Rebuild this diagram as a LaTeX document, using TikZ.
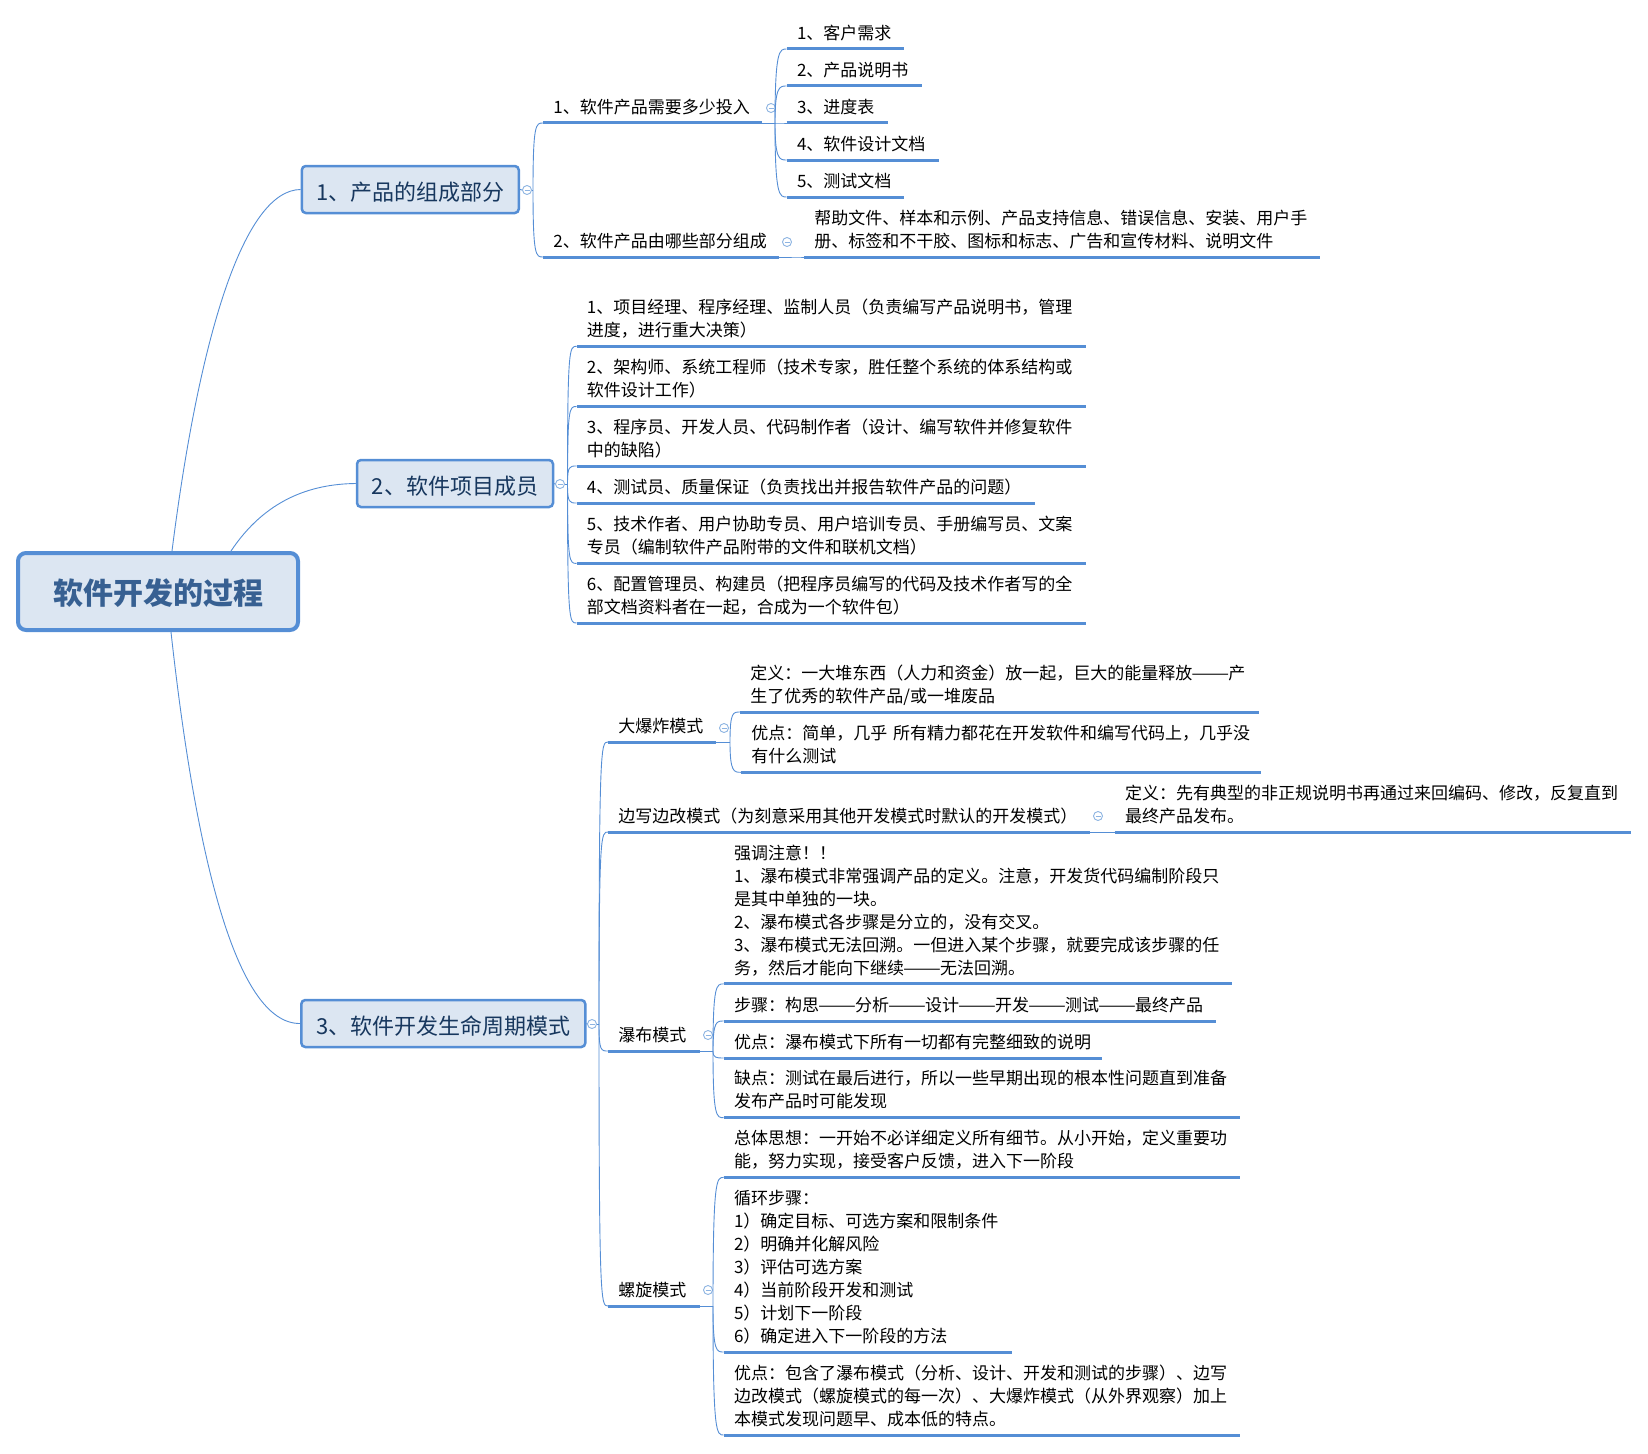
\documentclass[tikz,border=0pt]{standalone}
\usepackage{fontspec}
\usepackage{graphicx}
\setmainfont{Noto Sans CJK SC}
\definecolor{mapblue}{HTML}{558ED5}
\definecolor{mapfill}{HTML}{DCE6F2}
\definecolor{maptext}{HTML}{17375E}
\definecolor{rootext}{HTML}{376092}
\definecolor{foldblue}{HTML}{8DB4E2}
\newcommand{\longdash}{\makebox[36pt]{\scalebox{1.33}[1]{——}}}
\tikzset{
    rootbox/.style = {draw = mapblue, fill = mapfill, line width = 4pt, rounded corners = 8pt, minimum width = 280pt, minimum height = 77pt, text height = 30pt, text depth = 4pt, font = {\fontsize{30}{36}\selectfont\bfseries}, text = rootext},
    mainbox/.style = {draw = mapblue, fill = mapfill, line width = 2.5pt, rounded corners = 4pt, minimum height = 47pt, text height = 24pt, text depth = 3pt, font = {\fontsize{22}{28}\selectfont}, text = maptext},
    topic/.style = {anchor = south west, align = left, inner xsep = 10.4pt, inner ysep = 3pt, outer sep = 0pt, font = {\fontsize{17}{23}\selectfont}, execute at begin node = \strut, execute at end node = \strut},
    fold/.style = {circle, draw = foldblue, fill = white, line width = 0.9pt, minimum size = 9pt, inner sep = 0pt, path picture = {\draw[foldblue, line width = 0.9pt] ([xshift = 2pt]path picture bounding box.west) -- ([xshift = -2pt]path picture bounding box.east);}},
    uline/.style = {mapblue, line width = 3pt},
    branch/.style = {mapblue, line width = 0.9pt}
}

\begin{document}
\begin{tikzpicture}[x = 1pt, y = -1pt]
    \useasboundingbox (0, 0) rectangle (1648, 1453);

    % central topic and the three main topics
    \node[rootbox] (root) at (158, 591.5) {软件开发的过程};
    \node[mainbox, minimum width = 217pt] (prod) at (410.3, 189.5) {1、产品的组成部分};
    \node[mainbox, minimum width = 196pt] (team) at (455, 483.5) {2、软件项目成员};
    \node[mainbox, minimum width = 284pt] (life) at (443.3, 1023.5) {3、软件开发生命周期模式};

    \node[fold] (fprod) at (527, 190) {};
    \node[fold] (fteam) at (560, 484) {};
    \node[fold] (flife) at (592, 1024) {};

    \draw[branch] ([xshift = 14pt]root.north) .. controls (200, 330) and (245, 190) .. (prod.west);
    \draw[branch] ([xshift = 73pt]root.north) .. controls (265, 500) and (310, 484) .. (team.west);
    \draw[branch] ([xshift = 13pt]root.south) .. controls (195, 850) and (235, 1024) .. (life.west);
    \draw[branch] (prod.east) -- (fprod.west);
    \draw[branch] (team.east) -- (fteam.west);
    \draw[branch] (life.east) -- (flife.west);

    % first branch
    \node[topic, text width = 198.2pt] (inv) at (543, 123) {1、软件产品需要多少投入};
    \node[topic, text width = 215.2pt] (part) at (543, 257) {2、软件产品由哪些部分组成};
    \node[fold] (finv) at (771, 108) {};
    \node[fold] (fpart) at (787, 242) {};

    \node[topic, text width = 97pt] (inv1) at (786.6, 49) {1、客户需求};
    \node[topic, text width = 114.3pt] (inv2) at (786.6, 86) {2、产品说明书};
    \node[topic, text width = 80.2pt] (inv3) at (786.6, 123) {3、进度表};
    \node[topic, text width = 131.2pt] (inv4) at (786.6, 160) {4、软件设计文档};
    \node[topic, text width = 97pt] (inv5) at (786.6, 197) {5、测试文档};
    \node[topic, text width = 494.7pt] (doc) at (804, 257) {帮助文件、样本和示例、产品支持信息、错误信息、安装、用户手\\册、标签和不干胶、图标和标志、广告和宣传材料、说明文件};

    % second branch
    \node[topic, text width = 488.4pt] (team1) at (576.5, 346.3) {1、项目经理、程序经理、监制人员（负责编写产品说明书，管理\\进度，进行重大决策）};
    \node[topic, text width = 488.4pt] (team2) at (576.5, 406.5) {2、架构师、系统工程师（技术专家，胜任整个系统的体系结构或\\软件设计工作）};
    \node[topic, text width = 488.4pt] (team3) at (576.5, 466) {3、程序员、开发人员、代码制作者（设计、编写软件并修复软件\\中的缺陷）};
    \node[topic, text width = 437.4pt] (team4) at (576.5, 503) {4、测试员、质量保证（负责找出并报告软件产品的问题）};
    \node[topic, text width = 488.4pt] (team5) at (576.5, 563.4) {5、技术作者、用户协助专员、用户培训专员、手册编写员、文案\\专员（编制软件产品附带的文件和联机文档）};
    \node[topic, text width = 488.4pt] (team6) at (576.5, 623) {6、配置管理员、构建员（把程序员编写的代码及技术作者写的全\\部文档资料者在一起，合成为一个软件包）};

    % third branch
    \node[topic, text width = 87pt] (bang) at (608, 742) {大爆炸模式};
    \node[topic, text width = 461.2pt] (fix) at (608, 832) {边写边改模式（为刻意采用其他开发模式时默认的开发模式）};
    \node[topic, text width = 71.2pt] (fall) at (608, 1051) {瀑布模式};
    \node[topic, text width = 71.2pt] (spiral) at (608, 1306) {螺旋模式};
    \node[fold] (fbang) at (724, 728) {};
    \node[fold] (ffix) at (1098, 816) {};
    \node[fold] (ffall) at (708, 1035) {};
    \node[fold] (fspiral) at (708, 1290) {};

    \node[topic, text width = 497.8pt] (bang1) at (740, 712) {定义：一大堆东西（人力和资金）放一起，巨大的能量释放\longdash 产\\生了优秀的软件产品/或一堆废品};
    \node[topic, text width = 499.2pt] (bang2) at (741, 772.3) {优点：简单，几乎 所有精力都花在开发软件和编写代码上，几乎没\\有什么测试};
    \node[topic, text width = 495.2pt] (fix1) at (1114.6, 832) {定义：先有典型的非正规说明书再通过来回编码、修改，反复直到\\最终产品发布。};
    \node[topic, text width = 487.9pt] (fall1) at (723.6, 983.9) {强调注意！！\\1、瀑布模式非常强调产品的定义。注意，开发货代码编制阶段只\\是其中单独的一块。\\2、瀑布模式各步骤是分立的，没有交叉。\\3、瀑布模式无法回溯。一但进入某个步骤，就要完成该步骤的任\\务，然后才能向下继续\longdash 无法回溯。};
    \node[topic, text width = 471.1pt] (fall2) at (723.6, 1021) {步骤：构思\longdash 分析\longdash 设计\longdash 开发\longdash 测试\longdash 最终产品};
    \node[topic, text width = 357.5pt] (fall3) at (723.6, 1058) {优点：瀑布模式下所有一切都有完整细致的说明};
    \node[topic, text width = 495.3pt] (fall4) at (723.6, 1117.7) {缺点：测试在最后进行，所以一些早期出现的根本性问题直到准备\\发布产品时可能发现};
    \node[topic, text width = 495.3pt] (spiral1) at (723.6, 1177.4) {总体思想：一开始不必详细定义所有细节。从小开始，定义重要功\\能，努力实现，接受客户反馈，进入下一阶段};
    \node[topic, text width = 267.2pt] (spiral2) at (723.6, 1352) {循环步骤：\\1）确定目标、可选方案和限制条件\\2）明确并化解风险\\3）评估可选方案\\4）当前阶段开发和测试\\5）计划下一阶段\\6）确定进入下一阶段的方法};
    \node[topic, text width = 495.3pt] (spiral3) at (723.6, 1435) {优点：包含了瀑布模式（分析、设计、开发和测试的步骤）、边写\\边改模式（螺旋模式的每一次）、大爆炸模式（从外界观察）加上\\本模式发现问题早、成本低的特点。};

    % where the curves of each topic leave their spine
    \coordinate (sprod) at (533, 190);
    \coordinate (steam) at (567.5, 484);
    \coordinate (slife) at (599, 1024);
    \coordinate (sinv) at (775, 123);
    \coordinate (spart) at (791, 257);
    \coordinate (sbang) at (730, 742);
    \coordinate (sfix) at (1102, 832);
    \coordinate (sfall) at (713, 1051);
    \coordinate (sspiral) at (713, 1306);

    % underlines of the topics
    \foreach \n in {inv, part, inv1, inv2, inv3, inv4, inv5, doc, team1, team2, team3, team4, team5, team6, bang, fix, fall, spiral, bang1, bang2, fix1, fall1, fall2, fall3, fall4, spiral1, spiral2, spiral3}
        \draw[uline] (\n.south west) -- (\n.south east);

    % short stubs, then curves from the spine to the start of each underline
    \draw[branch] (fprod.east) -- (sprod);
    \draw[branch] (fteam.east) -- (steam);
    \draw[branch] (flife.east) -- (slife);
    \foreach \p/\s in {inv/sinv, part/spart, bang/sbang, fix/sfix, fall/sfall, spiral/sspiral}
        \draw[branch] (\p.south east) -- (\s);
    \foreach \s/\n in {sprod/inv, sprod/part, steam/team1, steam/team2, steam/team3, steam/team4, steam/team5, steam/team6, slife/bang, slife/fix, slife/fall, slife/spiral, sinv/inv1, sinv/inv2, sinv/inv3, sinv/inv4, sinv/inv5, spart/doc, sbang/bang1, sbang/bang2, sfix/fix1, sfall/fall1, sfall/fall2, sfall/fall3, sfall/fall4, sspiral/spiral1, sspiral/spiral2, sspiral/spiral3}
        \draw[branch] (\s) .. controls (\s |- \n.south west) and ([xshift = -7pt]\n.south west) .. (\n.south west);
\end{tikzpicture}
\end{document}
